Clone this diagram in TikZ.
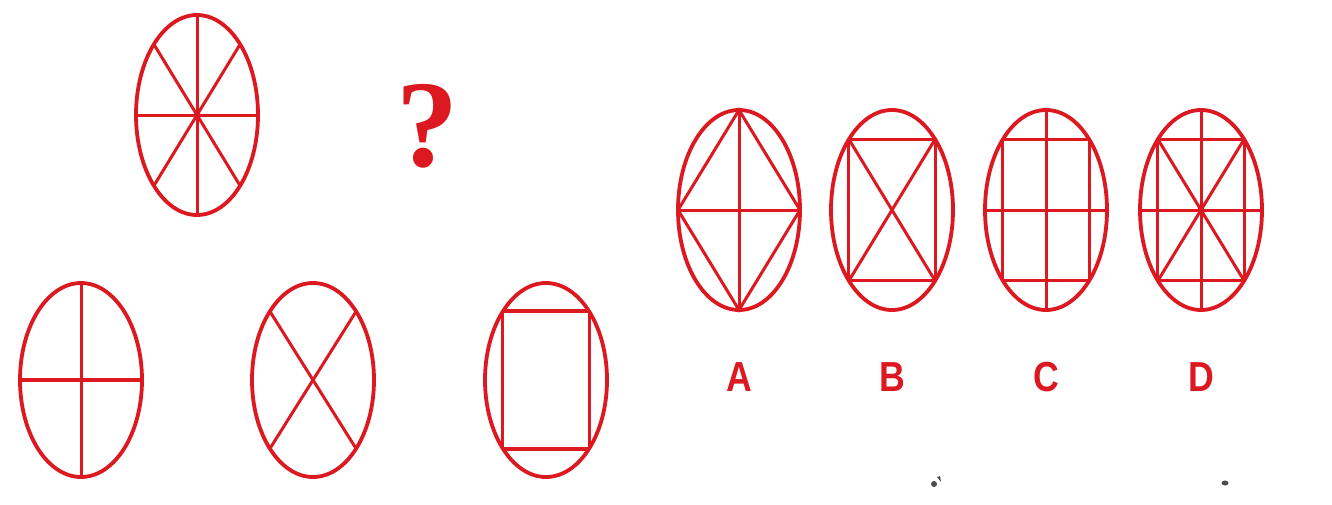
\documentclass[tikz,border=0pt]{standalone}
\usepackage{fontspec}
\setmainfont{Liberation Serif}
\newfontfamily\labfont{Liberation Sans}
\definecolor{qred}{HTML}{DC1820}
\tikzset{
  rim/.style={draw=qred, line width=3.8pt},
  ln/.style={draw=qred, line width=3pt},
  thick ln/.style={draw=qred, line width=4pt},
  lab/.style={text=qred, font=\labfont\bfseries\fontsize{42}{42}\selectfont, inner sep=0pt, xscale=0.85},
  blob/.style={fill=black!70, draw=none}
}
\begin{document}
\begin{tikzpicture}[x=1pt, y=-1pt]
\useasboundingbox (0,0) rectangle (1332,504);
\fill[white] (0,0) rectangle (1332,504);

% top figure: eight spokes
\begin{scope}[shift={(197,115)}]
  \draw[rim] (0,0) ellipse [x radius=61pt, y radius=100pt];
  \draw[ln] (0,-100) -- (0,100);
  \draw[ln] (-61,0) -- (61,0);
  \draw[ln] (-43.1,-70.7) -- (43.1,70.7);
  \draw[ln] (43.1,-70.7) -- (-43.1,70.7);
  \fill[qred] (0,0) circle (3.5pt);
\end{scope}

\node[text=qred, font=\bfseries\fontsize{124}{124}\selectfont, inner sep=0pt] (q) at (427,126) {?};

% bottom row
\begin{scope}[shift={(81,380)}]
  \draw[rim] (0,0) ellipse [x radius=61pt, y radius=97pt];
  \draw[ln] (0,-97) -- (0,97);
  \draw[thick ln] (-61,0) -- (61,0);
\end{scope}
\begin{scope}[shift={(313,380)}]
  \draw[rim] (0,0) ellipse [x radius=61pt, y radius=97pt];
  \draw[ln] (-43.1,-68.6) -- (43.1,68.6);
  \draw[ln] (43.1,-68.6) -- (-43.1,68.6);
\end{scope}
\begin{scope}[shift={(546,380)}]
  \draw[rim] (0,0) ellipse [x radius=61pt, y radius=97pt];
  \draw[thick ln] (-43.1,-68.6) -- (43.1,-68.6);
  \draw[thick ln] (-43.1,68.6) -- (43.1,68.6);
  \draw[ln] (-43.1,-68.6) -- (-43.1,68.6);
  \draw[ln] (43.1,-68.6) -- (43.1,68.6);
\end{scope}

% option A
\begin{scope}[shift={(739,210)}]
  \draw[rim] (0,0) ellipse [x radius=61pt, y radius=100pt];
  \draw[ln] (0,-100) -- (0,100);
  \draw[ln] (-61,0) -- (61,0);
  \draw[ln] (0,-100) -- (61,0) -- (0,100) -- (-61,0) -- cycle;
\end{scope}
% option B
\begin{scope}[shift={(892,210)}]
  \draw[rim] (0,0) ellipse [x radius=61pt, y radius=100pt];
  \draw[ln] (-43.1,-70.7) rectangle (43.1,70.7);
  \draw[ln] (-43.1,-70.7) -- (43.1,70.7);
  \draw[ln] (43.1,-70.7) -- (-43.1,70.7);
\end{scope}
% option C
\begin{scope}[shift={(1046,210)}]
  \draw[rim] (0,0) ellipse [x radius=61pt, y radius=100pt];
  \draw[ln] (-43.1,-70.7) rectangle (43.1,70.7);
  \draw[ln] (0,-100) -- (0,100);
  \draw[ln] (-61,0) -- (61,0);
\end{scope}
% option D
\begin{scope}[shift={(1201,210)}]
  \draw[rim] (0,0) ellipse [x radius=61pt, y radius=100pt];
  \draw[ln] (-43.1,-70.7) rectangle (43.1,70.7);
  \draw[ln] (0,-100) -- (0,100);
  \draw[ln] (-61,0) -- (61,0);
  \draw[ln] (-43.1,-70.7) -- (43.1,70.7);
  \draw[ln] (43.1,-70.7) -- (-43.1,70.7);
  \fill[qred] (0,0) circle (3.5pt);
\end{scope}

\node[lab] (la) at (739,377) {A};
\node[lab] (lb) at (892,377) {B};
\node[lab] (lc) at (1046,377) {C};
\node[lab] (ld) at (1201,377) {D};

% small scan specks
\fill[blob] (934,484) circle (3pt);
\fill[blob] (937,477) -- (940,476) -- (941,482) -- cycle;
\fill[blob] (1225,483) ellipse [x radius=3.5pt, y radius=2.5pt];
\end{tikzpicture}
\end{document}
